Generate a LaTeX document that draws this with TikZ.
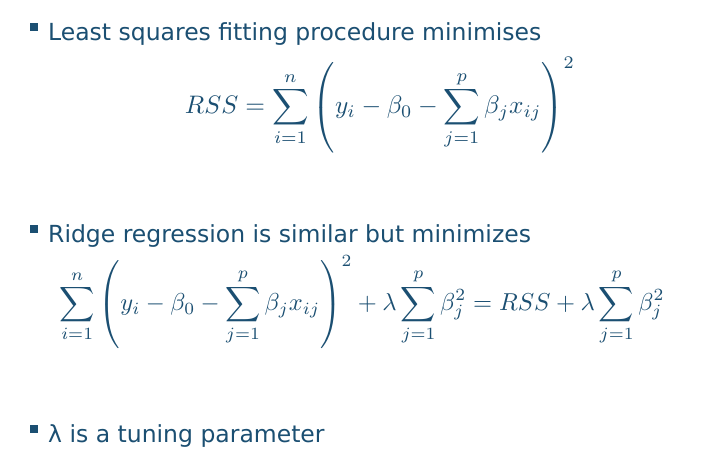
\documentclass[tikz,border=0pt]{standalone}
\usepackage{amsmath}
\usepackage{graphicx}
\usepackage{fontspec}
\setmainfont{DejaVu Sans}
\definecolor{tc}{HTML}{1B4F72}
\tikzset{bul/.style={fill=tc,minimum size=8pt,inner sep=0pt},
 txt/.style={anchor=base west,text=tc,font=\fontsize{23.5}{26}\selectfont,inner sep=0pt},
 eq/.style={text=tc,inner sep=0pt}}
\begin{document}
\begin{tikzpicture}[x=1pt,y=1pt]
\useasboundingbox[fill=white] (0,0) rectangle (727,-459);
\node[bul] (b1) at (34,-27) {};
\node[txt] (t1) at (48,-40) {Least squares fitting procedure minimises};
\node[eq] (e1) at (380,-105) {\resizebox{390pt}{!}{$\displaystyle RSS=\sum_{i=1}^{n}\left(y_i-\beta_0-\sum_{j=1}^{p}\beta_j x_{ij}\right)^{2}$}};
\node[bul] (b2) at (34,-229) {};
\node[txt] (t2) at (48,-242) {Ridge regression is similar but minimizes};
\node[eq] (e2) at (362,-302) {\resizebox{605pt}{!}{$\displaystyle \sum_{i=1}^{n}\left(y_i-\beta_0-\sum_{j=1}^{p}\beta_j x_{ij}\right)^{2}+\lambda\sum_{j=1}^{p}\beta_j^2=RSS+\lambda\sum_{j=1}^{p}\beta_j^2$}};
\node[bul] (b3) at (34,-429) {};
\node[txt] (t3) at (48,-442) {λ is a tuning parameter};
\end{tikzpicture}
\end{document}
